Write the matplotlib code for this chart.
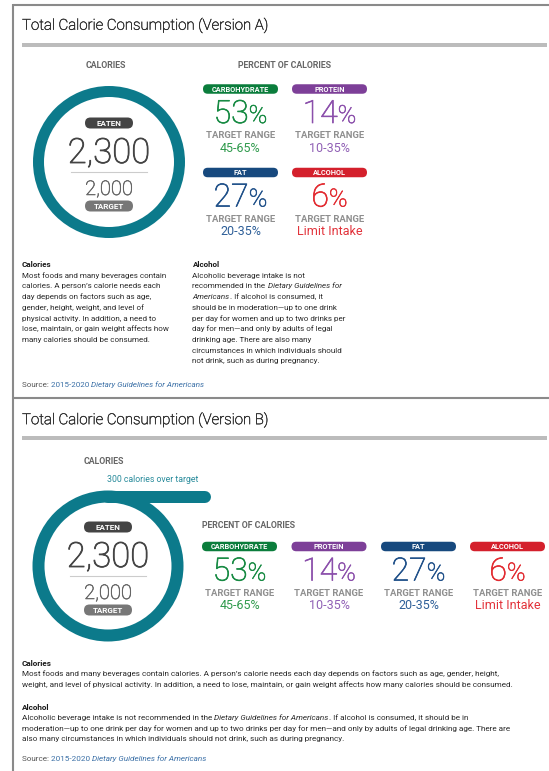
import matplotlib
matplotlib.use('Agg')
import matplotlib.pyplot as plt
import matplotlib.patheffects as pe
from matplotlib.patches import Wedge, FancyBboxPatch, Rectangle

plt.rcParams['font.family'] = ['Roboto', 'DejaVu Sans']

# Daten
calories_eaten = 2300
calories_target = 2000
nutrients = ['CARBOHYDRATE', 'PROTEIN', 'FAT', 'ALCOHOL']
percents = [53, 14, 27, 6]
target_ranges = ['45-65%', '10-35%', '20-35%', 'Limit Intake']
pill_colors = ['#0b7d3c', '#7d3f98', '#17497e', '#d4202c']
value_colors = ['#168a42', '#8b4fab', '#1f5089', '#e22a30']
range_colors = ['#2f9a4c', '#9060b5', '#2e5f98', '#e2333b']

calories_lines_a = [
    'Most foods and many beverages contain',
    'calories. A person\u2019s calorie needs each',
    'day depends on factors such as age,',
    'gender, height, weight, and level of',
    'physical activity. In addition, a need to',
    'lose, maintain, or gain weight affects how',
    'many calories should be consumed.',
]
alcohol_lines_a = [
    'Alcoholic beverage intake is not',
    'recommended in the *Dietary Guidelines for*',
    '*Americans*. If alcohol is consumed, it',
    'should be in moderation\u2014up to one drink',
    'per day for women and up to two drinks per',
    'day for men\u2014and only by adults of legal',
    'drinking age. There are also many',
    'circumstances in which individuals should',
    'not drink, such as during pregnancy.',
]
calories_lines_b = [
    'Most foods and many beverages contain calories. A person\u2019s calorie needs each day depends on factors such as age, gender, height,',
    'weight, and level of physical activity. In addition, a need to lose, maintain, or gain weight affects how many calories should be consumed.',
]
alcohol_lines_b = [
    'Alcoholic beverage intake is not recommended in the *Dietary Guidelines for Americans*. If alcohol is consumed, it should be in',
    'moderation\u2014up to one drink per day for women and up to two drinks per day for men\u2014and only by adults of legal drinking age. There are',
    'also many circumstances in which individuals should not drink, such as during pregnancy.',
]

TEAL = '#0c7a8b'
TEXT = '#2a2a2a'
HEAD = '#666666'
LINK = '#3a6fa6'

fig = plt.figure(figsize=(5.49, 7.71), dpi=100)
ax = fig.add_axes([0, 0, 1, 1])
ax.set_xlim(0, 549)
ax.set_ylim(771, 0)
ax.axis('off')
renderer = fig.canvas.get_renderer()


def thick(color, lw=0.45):
    return [pe.withStroke(linewidth=lw, foreground=color)]


def seg_width(s, **kw):
    t = ax.text(0, 0, '|' + s + '|', **kw)
    w1 = t.get_window_extent(renderer).width
    t.remove()
    t = ax.text(0, 0, '||', **kw)
    w2 = t.get_window_extent(renderer).width
    t.remove()
    return w1 - w2


def rich(x, y, segs, ha='left', va='baseline'):
    widths = [seg_width(s, **kw) for s, kw in segs]
    x0 = x - sum(widths) / 2 if ha == 'center' else x
    for (s, kw), w in zip(segs, widths):
        ax.text(x0, y, s, ha='left', va=va, **kw)
        x0 += w


def paragraph(x, y, title, lines, dy, size):
    ax.text(x, y, title, fontsize=size, fontweight='bold', color='#1a1a1a', va='baseline')
    for i, line in enumerate(lines):
        parts = line.split('*')
        segs = []
        for k, p in enumerate(parts):
            if p:
                segs.append((p, dict(fontsize=size, color=TEXT, style='italic' if k % 2 else 'normal')))
        rich(x, y + dy * (i + 1), segs)


def source(x, y, size):
    rich(x, y, [('Source: ', dict(fontsize=size, color='#555555')),
                ('2015-2020 ', dict(fontsize=size, color=LINK)),
                ('Dietary Guidelines for Americans', dict(fontsize=size, color=LINK, style='italic'))])


def pill(cx, cy, w, h, color, label, size=5.3):
    ax.add_patch(FancyBboxPatch((cx - w / 2, cy - h / 2), w, h,
                                boxstyle='round,pad=0,rounding_size=%f' % (h / 2),
                                fc=color, ec='none'))
    ax.text(cx, cy + 0.5, label, ha='center', va='center', fontsize=size,
            fontweight='bold', color='white')


def ring(cx, cy, r, w, px_per_cal=0.0):
    frac = min(calories_eaten / calories_target, 1)
    ax.add_patch(Wedge((cx, cy), r, 90 - 360 * frac, 90, width=w, fc=TEAL, ec='none'))
    if px_per_cal:
        over = calories_eaten - calories_target
        ym = cy - r + w / 2
        ax.plot([cx, cx + over * px_per_cal], [ym, ym], color=TEAL, lw=w * 0.72,
                solid_capstyle='round')
    # Innenleben
    pill(cx, cy - 39, 48, 11, '#444444', 'EATEN', 5.8)
    ax.text(cx, cy + 1, f'{calories_eaten:,}', ha='center', va='baseline',
            fontsize=25, fontweight='light', color='#444444', path_effects=thick('#444444', 0.6))
    ax.plot([cx - 38, cx + 38], [cy + 10, cy + 10], color='#cccccc', lw=0.8)
    ax.text(cx, cy + 33, f'{calories_target:,}', ha='center', va='baseline',
            fontsize=14.5, fontweight='light', color='#666666', path_effects=thick('#666666', 0.4))
    pill(cx, cy + 44, 48, 11, '#777777', 'TARGET', 5.8)


def nutrient_block(cx, py, i):
    pill(cx, py, 75, 9.5, pill_colors[i], nutrients[i])
    vc = value_colors[i]
    rich(cx, py + 34, [(str(percents[i]), dict(fontsize=23, fontweight='light', color=vc,
                                              path_effects=thick(vc, 0.5))),
                       ('%', dict(fontsize=18, fontweight='light', color=vc,
                                  path_effects=thick(vc, 0.4)))],
         ha='center')
    ax.text(cx, py + 47, 'TARGET RANGE', ha='center', va='center', fontsize=6.8,
            fontweight='bold', color='#8f8f8f')
    ax.text(cx, py + 59, target_ranges[i], ha='center', va='center', fontsize=9,
            color=range_colors[i])


# Rahmen
border = dict(color='#8a8a8a', lw=1.5, solid_capstyle='butt')
ax.plot([13, 549], [5, 5], **border)
ax.plot([13, 13], [4.3, 771], **border)
ax.plot([13, 549], [397.5, 397.5], **border)

# ---------- Version A ----------
ax.text(22, 25.5, 'Total Calorie Consumption (Version A)', fontsize=10.8,
        fontweight='light', color='#333333', va='center', path_effects=thick('#333333', 0.35))
ax.add_patch(Rectangle((22, 43), 525, 4, fc='#bcbcbc', ec='none'))
ax.text(106, 66, 'CALORIES', ha='center', va='center', fontsize=6.3, fontweight='bold', color=HEAD)
ax.text(284.5, 66, 'PERCENT OF CALORIES', ha='center', va='center', fontsize=6.3,
        fontweight='bold', color=HEAD)
ring(109, 162, 76, 11)
cols_a = [240.5, 329.5]
rows_a = [89, 172.5]
for i in range(4):
    nutrient_block(cols_a[i % 2], rows_a[i // 2], i)

paragraph(22, 267, 'Calories', calories_lines_a, 10.7, 5.8)
paragraph(192.5, 267, 'Alcohol', alcohol_lines_a, 10.7, 5.8)
source(22, 387, 5.8)

# ---------- Version B ----------
ax.text(22, 420, 'Total Calorie Consumption (Version B)', fontsize=10.8,
        fontweight='light', color='#333333', va='center', path_effects=thick('#333333', 0.35))
ax.add_patch(Rectangle((22, 436), 525, 4, fc='#bcbcbc', ec='none'))
ax.text(104, 462, 'CALORIES', ha='center', va='center', fontsize=6.3, fontweight='bold', color=HEAD)
ax.text(107, 480, f'{calories_eaten - calories_target} calories over target', va='center',
        fontsize=6.3, color='#2a8c9c')
ring(108, 566, 75.5, 12, px_per_cal=0.323)
ax.text(202, 525, 'PERCENT OF CALORIES', va='center', fontsize=6.3, fontweight='bold', color=HEAD)
cols_b = [239.5, 329, 418.5, 507.5]
for i in range(4):
    nutrient_block(cols_b[i], 546.5, i)

paragraph(22, 666, 'Calories', calories_lines_b, 10.3, 5.9)
paragraph(22, 710, 'Alcohol', alcohol_lines_b, 10.3, 5.9)
source(22, 761, 5.9)

fig.savefig('out.png', dpi=100, facecolor='white')
